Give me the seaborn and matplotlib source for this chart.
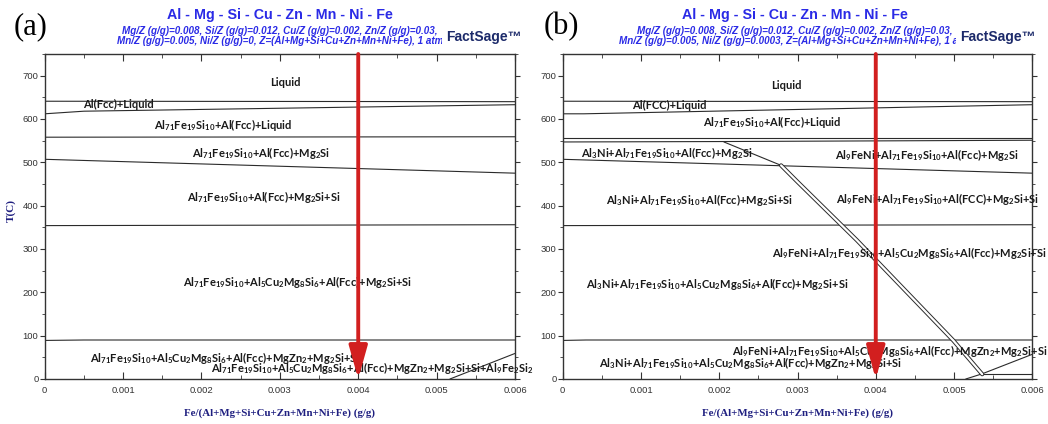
import numpy as np
import pandas as pd
import matplotlib
matplotlib.use("Agg")
import matplotlib.pyplot as plt
import seaborn as sns

# ---------------- data ----------------
TITLE = "Al - Mg - Si - Cu - Zn - Mn - Ni - Fe"
SUB_A = ["Mg/Z (g/g)=0.008, Si/Z (g/g)=0.012, Cu/Z (g/g)=0.002, Zn/Z (g/g)=0.03,",
         "Mn/Z (g/g)=0.005, Ni/Z (g/g)=0, Z=(Al+Mg+Si+Cu+Zn+Mn+Ni+Fe), 1 atm"]
SUB_B = ["Mg/Z (g/g)=0.008, Si/Z (g/g)=0.012, Cu/Z (g/g)=0.002, Zn/Z (g/g)=0.03,",
         "Mn/Z (g/g)=0.005, Ni/Z (g/g)=0.0003, Z=(Al+Mg+Si+Cu+Zn+Mn+Ni+Fe), 1 atm"]
XLABEL = "Fe/(Al+Mg+Si+Cu+Zn+Mn+Ni+Fe) (g/g)"
YLABEL = "T(C)"
X_TICKS = [0, 0.001, 0.002, 0.003, 0.004, 0.005, 0.006]
X_TICK_LABELS = ["0", "0.001", "0.002", "0.003", "0.004", "0.005", "0.006"]
Y_TICKS = [0, 100, 200, 300, 400, 500, 600, 700]
ARROW_X = 0.004

# panel (a) phase boundaries
A_LIQUIDUS_X = [0, 0.006];            A_LIQUIDUS_T = [641, 640]
A_FCC_X = [0, 0.0005, 0.006];         A_FCC_T = [612, 618, 633]
A_FESI_X = [0, 0.006];                A_FESI_T = [558, 559]
A_MG2SI_X = [0, 0.006];               A_MG2SI_T = [507, 475]
A_SI_X = [0, 0.006];                  A_SI_T = [354, 356]
A_MGZN2_X = [0, 0.0005, 0.006];       A_MGZN2_T = [89, 90, 90]
A_AL9FE2_X = [0.00517, 0.006];        A_AL9FE2_T = [0, 59]

# panel (b) phase boundaries
B_LIQUIDUS_X = [0, 0.006];            B_LIQUIDUS_T = [641, 640]
B_FCC_X = [0, 0.00027, 0.006];        B_FCC_T = [612, 612, 633]
B_FESI_X = [0, 0.006];                B_FESI_T = [557, 557]
B_AL3NI_X = [0, 0.00206, 0.006];      B_AL3NI_T = [547, 548, 551]
B_MG2SI_X = [0, 0.006];               B_MG2SI_T = [507, 475]
B_SI_X = [0, 0.006];                  B_SI_T = [354, 356]
B_MGZN2_X = [0, 0.0003, 0.006];       B_MGZN2_T = [89, 90, 90]
B_DIAG1_X = [0.00206, 0.00279];       B_DIAG1_T = [547, 493]
B_DIAG2_X = [0.00279, 0.0030, 0.00376, 0.00499, 0.00536]
B_DIAG2_T = [493, 455, 320, 89, 11]
B_LOW_X = [0.00515, 0.00536, 0.006];  B_LOW_T = [0, 12, 57]
B_LOWH_X = [0.00536, 0.006];          B_LOWH_T = [12, 12]

# labels
A_LABELS = ["Liquid",
            "Al(Fcc)+Liquid",
            "Al$_{71}$Fe$_{19}$Si$_{10}$+Al(Fcc)+Liquid",
            "Al$_{71}$Fe$_{19}$Si$_{10}$+Al(Fcc)+Mg$_{2}$Si",
            "Al$_{71}$Fe$_{19}$Si$_{10}$+Al(Fcc)+Mg$_{2}$Si+Si",
            "Al$_{71}$Fe$_{19}$Si$_{10}$+Al$_{5}$Cu$_{2}$Mg$_{8}$Si$_{6}$+Al(Fcc)+Mg$_{2}$Si+Si",
            "Al$_{71}$Fe$_{19}$Si$_{10}$+Al$_{5}$Cu$_{2}$Mg$_{8}$Si$_{6}$+Al(Fcc)+MgZn$_{2}$+Mg$_{2}$Si+Si",
            "Al$_{71}$Fe$_{19}$Si$_{10}$+Al$_{5}$Cu$_{2}$Mg$_{8}$Si$_{6}$+Al(Fcc)+MgZn$_{2}$+Mg$_{2}$Si+Si+Al$_{9}$Fe$_{2}$Si$_{2}$"]
A_LABEL_X = [0.003075, 0.000944, 0.00228, 0.002764, 0.00279, 0.003228, 0.000578, 0.002118]
A_LABEL_T = [684, 633, 587, 521, 420, 224, 49, 25]
A_LABEL_HA = ["center", "center", "center", "center", "center", "center", "left", "left"]

B_LABELS = ["Liquid",
            "Al(FCC)+Liquid",
            "Al$_{71}$Fe$_{19}$Si$_{10}$+Al(Fcc)+Liquid",
            "Al$_{3}$Ni+Al$_{71}$Fe$_{19}$Si$_{10}$+Al(Fcc)+Mg$_{2}$Si",
            "Al$_{9}$FeNi+Al$_{71}$Fe$_{19}$Si$_{10}$+Al(Fcc)+Mg$_{2}$Si",
            "Al$_{3}$Ni+Al$_{71}$Fe$_{19}$Si$_{10}$+Al(Fcc)+Mg$_{2}$Si+Si",
            "Al$_{9}$FeNi+Al$_{71}$Fe$_{19}$Si$_{10}$+Al(FCC)+Mg$_{2}$Si+Si",
            "Al$_{9}$FeNi+Al$_{71}$Fe$_{19}$Si$_{10}$+Al$_{5}$Cu$_{2}$Mg$_{8}$Si$_{6}$+Al(Fcc)+Mg$_{2}$Si+Si",
            "Al$_{3}$Ni+Al$_{71}$Fe$_{19}$Si$_{10}$+Al$_{5}$Cu$_{2}$Mg$_{8}$Si$_{6}$+Al(Fcc)+Mg$_{2}$Si+Si",
            "Al$_{9}$FeNi+Al$_{71}$Fe$_{19}$Si$_{10}$+Al$_{5}$Cu$_{2}$Mg$_{8}$Si$_{6}$+Al(Fcc)+MgZn$_{2}$+Mg$_{2}$Si+Si",
            "Al$_{3}$Ni+Al$_{71}$Fe$_{19}$Si$_{10}$+Al$_{5}$Cu$_{2}$Mg$_{8}$Si$_{6}$+Al(Fcc)+MgZn$_{2}$+Mg$_{2}$Si+Si"]
B_LABEL_X = [0.002857, 0.001358, 0.002678, 0.001333, 0.004655, 0.00175, 0.00479,
             0.004434, 0.001976, 0.00418, 0.0024]
B_LABEL_T = [678, 632, 592, 521, 516, 414, 416, 291, 220, 65, 38]

# ---------------- style ----------------
sns.set_theme(style="white")
plt.rcParams["font.family"] = ["Liberation Sans", "DejaVu Sans"]
plt.rcParams["mathtext.fontset"] = "custom"
plt.rcParams["mathtext.rm"] = "Lato:bold"
plt.rcParams["mathtext.it"] = "Lato:bold"
plt.rcParams["mathtext.bf"] = "Lato:bold"
plt.rcParams["mathtext.default"] = "rm"

W, H = 1048, 424
fig = plt.figure(figsize=(W / 100, H / 100), dpi=100)
fig.patch.set_facecolor("white")

LINE_C = "#2b2b2b"
BLUE = "#2a2ae6"
NAVY = "#1f1f80"
RED = "#d21f1f"
LABEL_FS = 8.0


def boundaries_df(lines):
    rows = []
    for i, (xs, ts) in enumerate(lines):
        for x, t in zip(xs, ts):
            rows.append({"line": i, "x": x, "T": t})
    return pd.DataFrame(rows)


def setup_axes(ax, show_ylabel):
    ax.set_xlim(0, 0.006)
    ax.set_ylim(0, 750)
    ax.set_xticks(X_TICKS)
    ax.set_xticklabels(X_TICK_LABELS)
    ax.set_yticks(Y_TICKS)
    ax.set_xticks(np.arange(0, 0.0061, 0.0005), minor=True)
    ax.set_yticks(np.arange(0, 751, 50), minor=True)
    ax.tick_params(which="both", direction="in", top=True, right=True,
                   bottom=True, left=True, color="#333333")
    ax.tick_params(which="major", length=5, width=0.8, labelsize=6.8,
                   labelcolor="#333333")
    ax.tick_params(axis="x", which="major", pad=5)
    ax.tick_params(which="minor", length=3, width=0.6)
    ax.tick_params(axis="y", which="both", left=True, direction="out", pad=1)
    ax.tick_params(axis="y", which="major", length=3.5)
    ax.tick_params(axis="y", which="minor", length=2.5)
    for s in ax.spines.values():
        s.set_color("#333333")
        s.set_linewidth(1.0)
    ax.set_xlabel(XLABEL, family="Liberation Serif", weight="bold",
                  color=NAVY, fontsize=7.8, labelpad=10)
    if show_ylabel:
        ax.set_ylabel(YLABEL, family="Liberation Serif", weight="bold",
                      color=NAVY, fontsize=8)
        ax.yaxis.set_label_coords(-0.062, 0.52)
    else:
        ax.set_ylabel("")


def arrow(ax):
    ax.annotate("", xy=(ARROW_X, 0), xytext=(ARROW_X, 750),
                arrowprops=dict(arrowstyle="-|>,head_length=1.0,head_width=0.28",
                                mutation_scale=20, lw=2.8, color=RED,
                                shrinkA=0, shrinkB=0),
                zorder=10, annotation_clip=False)


def labels(ax, texts, xs, ts, has):
    for s, x, t, ha in zip(texts, xs, ts, has):
        ax.text(x, t, s, ha=ha, va="center", fontsize=LABEL_FS,
                family="Lato", weight="bold", color="#1a1a1a", zorder=5,
                clip_on=False)


# ---------- panel (a) ----------
ax_a = fig.add_axes([44.7 / W, 45 / H, 470.3 / W, 325 / H])
df_a = boundaries_df([(A_LIQUIDUS_X, A_LIQUIDUS_T), (A_FCC_X, A_FCC_T),
                      (A_FESI_X, A_FESI_T), (A_MG2SI_X, A_MG2SI_T),
                      (A_SI_X, A_SI_T), (A_MGZN2_X, A_MGZN2_T),
                      (A_AL9FE2_X, A_AL9FE2_T)])
sns.lineplot(data=df_a, x="x", y="T", units="line", estimator=None, sort=False,
             color=LINE_C, lw=0.8, ax=ax_a, legend=False)
setup_axes(ax_a, True)
labels(ax_a, A_LABELS, A_LABEL_X, A_LABEL_T, A_LABEL_HA)
arrow(ax_a)

# ---------- panel (b) ----------
ax_b = fig.add_axes([562.7 / W, 45 / H, 469.6 / W, 325 / H])
df_b = boundaries_df([(B_LIQUIDUS_X, B_LIQUIDUS_T), (B_FCC_X, B_FCC_T),
                      (B_FESI_X, B_FESI_T), (B_AL3NI_X, B_AL3NI_T),
                      (B_MG2SI_X, B_MG2SI_T), (B_SI_X, B_SI_T),
                      (B_MGZN2_X, B_MGZN2_T), (B_DIAG1_X, B_DIAG1_T),
                      (B_LOW_X, B_LOW_T), (B_LOWH_X, B_LOWH_T)])
sns.lineplot(data=df_b, x="x", y="T", units="line", estimator=None, sort=False,
             color=LINE_C, lw=0.8, ax=ax_b, legend=False)
# double line (two-phase sliver)
sns.lineplot(x=B_DIAG2_X, y=B_DIAG2_T, sort=False, estimator=None,
             color=LINE_C, lw=3.0, ax=ax_b, legend=False)
sns.lineplot(x=B_DIAG2_X, y=B_DIAG2_T, sort=False, estimator=None,
             color="white", lw=1.6, ax=ax_b, legend=False)
setup_axes(ax_b, False)
labels(ax_b, B_LABELS, B_LABEL_X, B_LABEL_T, ["center"] * len(B_LABELS))
arrow(ax_b)

# ---------- headers ----------
for cx, sub, tag, tagx, logox in [(280, SUB_A, "(a)", 31, 446),
                                  (795, SUB_B, "(b)", 561, 960)]:
    fig.text(cx / W, 1 - 15 / H, TITLE, ha="center", va="center",
             fontsize=10.3, weight="bold", color=BLUE)
    fig.text(cx / W, 1 - 30.5 / H, sub[0], ha="center", va="center",
             fontsize=7.1, weight="bold", style="italic", color=BLUE)
    fig.text(cx / W, 1 - 41.5 / H, sub[1], ha="center", va="center",
             fontsize=7.1, weight="bold", style="italic", color=BLUE)
    fig.text(tagx / W, 1 - 27 / H, tag, ha="center", va="center",
             fontsize=22, family="Liberation Serif", color="black")
    fig.text(logox / W, 1 - 37 / H, "FactSage\u2122", ha="left", va="center",
             fontsize=10, weight="bold", color="#1c2a6a", zorder=20,
             bbox=dict(boxstyle="square,pad=0.3", fc="white", ec="none"))

fig.savefig("out.png", dpi=100, facecolor="white")
